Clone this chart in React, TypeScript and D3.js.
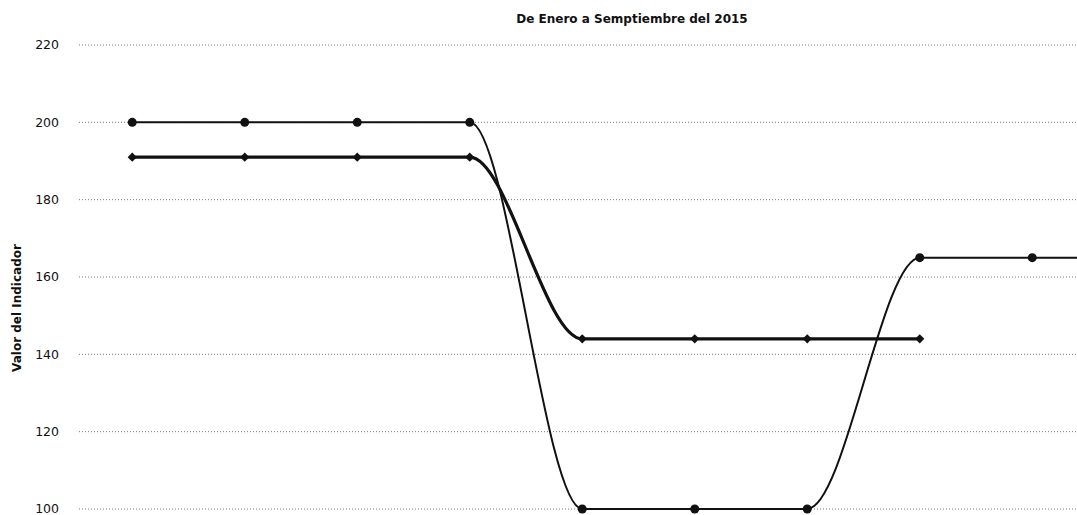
import * as d3 from "d3";
import { useEffect, useRef } from "react";

const W = 1077;
const H = 515;

// months (the x labels are cut off in the picture, only the points remain)
const months = ["Ene", "Feb", "Mar", "Abr", "May", "Jun", "Jul", "Ago", "Sep", "Oct"];
const seriesA = [200, 200, 200, 200, 100, 100, 100, 165, 165, 165];
const seriesB = [191, 191, 191, 191, 144, 144, 144, 144, null, null];
const yTicks = [100, 120, 140, 160, 180, 200, 220];

const title = "De Enero a Semptiembre del 2015";
const yTitle = "Valor del Indicador";

const App = () => {
  const ref = useRef<SVGSVGElement>(null);

  useEffect(() => {
    const svg = d3.select(ref.current);
    svg.selectAll("*").remove();

    const left = 79;
    // x scale, last category falls outside the cropped picture
    const x = d3.scalePoint<string>().domain(months).range([76, 1201]).padding(0.5);
    const y = d3.scaleLinear().domain([100, 220]).range([509, 45]);

    // title
    svg
      .append("text")
      .attr("x", 632)
      .attr("y", 23)
      .attr("text-anchor", "middle")
      .style("font-family", "'DejaVu Sans', sans-serif")
      .style("font-size", "12px")
      .style("font-weight", "bold")
      .attr("fill", "#111")
      .text(title);

    // y axis title
    svg
      .append("text")
      .attr("transform", `translate(21,${308}) rotate(-90)`)
      .attr("text-anchor", "middle")
      .style("font-family", "'DejaVu Sans', sans-serif")
      .style("font-size", "12px")
      .style("font-weight", "bold")
      .attr("fill", "#111")
      .text(yTitle);

    // grid lines, dotted
    svg
      .append("g")
      .selectAll("line")
      .data(yTicks)
      .enter()
      .append("line")
      .attr("x1", left)
      .attr("x2", W)
      .attr("y1", (d) => y(d))
      .attr("y2", (d) => y(d))
      .attr("stroke", "#777")
      .attr("stroke-width", 1)
      .attr("stroke-dasharray", "1,2");

    // tick labels
    svg
      .append("g")
      .selectAll("text")
      .data(yTicks)
      .enter()
      .append("text")
      .attr("x", 59)
      .attr("y", (d) => y(d))
      .attr("dy", "0.35em")
      .attr("text-anchor", "end")
      .style("font-family", "'DejaVu Sans', sans-serif")
      .style("font-size", "12.5px")
      .attr("fill", "#111")
      .text((d) => d);

    const line = d3
      .line<number | null>()
      .defined((d) => d !== null)
      .x((d, i) => x(months[i]) as number)
      .y((d) => y(d as number))
      .curve(d3.curveMonotoneX);

    // series A, thinner line with round markers
    svg
      .append("path")
      .datum(seriesA)
      .attr("d", line)
      .attr("fill", "none")
      .attr("stroke", "#111")
      .attr("stroke-width", 2);

    svg
      .append("g")
      .selectAll("circle")
      .data(seriesA)
      .enter()
      .append("circle")
      .attr("cx", (d, i) => x(months[i]) as number)
      .attr("cy", (d) => y(d))
      .attr("r", 4.5)
      .attr("fill", "#111");

    // series B, thicker line with square diamonds
    svg
      .append("path")
      .datum(seriesB)
      .attr("d", line)
      .attr("fill", "none")
      .attr("stroke", "#111")
      .attr("stroke-width", 3.2);

    const diamond = d3.symbol().type(d3.symbolSquare).size(42);
    svg
      .append("g")
      .selectAll("path")
      .data(seriesB.map((v, i) => ({ v, m: months[i] })).filter((d) => d.v !== null))
      .enter()
      .append("path")
      .attr("d", diamond)
      .attr("transform", (d) => `translate(${x(d.m)},${y(d.v as number)}) rotate(45)`)
      .attr("fill", "#111");
  }, []);

  return (
    <svg
      ref={ref}
      width={W}
      height={H}
      style={{ position: "absolute", left: 0, top: 0, background: "white" }}
    />
  );
};

export default App;
